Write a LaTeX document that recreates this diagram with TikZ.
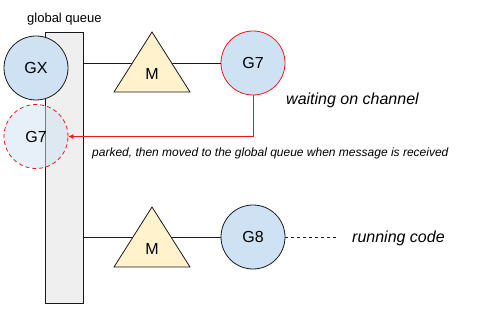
\documentclass[tikz,border=0pt]{standalone}
\usepackage{fontspec}
\setmainfont{Liberation Sans}
\usepackage{xcolor}
\usepackage{tikz}
\usetikzlibrary{arrows.meta,positioning}
\definecolor{gblue}{HTML}{CFE2F3}
\definecolor{myellow}{HTML}{FFF2CC}
\definecolor{qgrey}{HTML}{EFEFEF}
\definecolor{ink}{HTML}{1A1A1A}
\definecolor{pred}{HTML}{F01818}
\tikzset{
  queuebox/.style={draw=ink, fill=qgrey, line width=0.8pt, minimum width=38pt, minimum height=271pt, inner sep=0pt},
  gnode/.style={circle, draw=ink, fill=gblue, line width=0.8pt, minimum size=64pt, inner sep=0pt, font=\fontsize{16}{19}\selectfont},
  waitnode/.style={gnode, draw=pred},
  ghostnode/.style={circle, draw=pred, dash pattern=on 4pt off 3pt, fill=gblue, fill opacity=0.5, text opacity=1, line width=0.8pt, minimum size=64pt, inner sep=0pt, font=\fontsize{16}{19}\selectfont},
  mtri/.style={draw=ink, fill=myellow, line width=0.8pt, line join=miter},
  mlabel/.style={inner sep=0pt, font=\fontsize{16}{19}\selectfont},
  note/.style={inner sep=0pt, anchor=base west, font=\fontsize{16}{19}\selectfont\itshape},
  smallnote/.style={inner sep=0pt, anchor=base west, font=\fontsize{12}{14}\selectfont\itshape},
  line/.style={draw=ink, line width=0.8pt},
  dashline/.style={draw=ink, line width=0.8pt, dash pattern=on 3pt off 3pt},
  redline/.style={-{Latex[length=5pt,width=5pt]}, draw=pred, line width=0.8pt}
}
\begin{document}
\begin{tikzpicture}[x=1pt, y=-1pt]
    \useasboundingbox (0,0) rectangle (497,320);
    \node[queuebox] (queue) at (64,167.5) {};
    \node[inner sep=0pt, anchor=base west, font=\fontsize{13}{15}\selectfont] (qlabel) at (27,23) {global queue};

    % top row
    \node[waitnode] (g7) at (253,63) {G7};
    \draw[line] (queue.east |- g7.west) -- (g7.west);
    \draw[mtri] (152,32) -- (190,92) -- (114,92) -- cycle;
    \node[mlabel] (m1) at (152,74) {M};
    \node[gnode] (gx) at (36,68) {GX};
    \node[note] (wait) at (286,105) {waiting on channel};

    % parked goroutine
    \node[ghostnode] (g7park) at (36,136.5) {G7};
    \draw[redline] (g7.south) |- (g7park);
    \node[smallnote] (parked) at (92,157) {parked, then moved to the global queue when message is received};

    % bottom row
    \node[gnode] (g8) at (253,237) {G8};
    \draw[line] (queue.east |- g8.west) -- (g8.west);
    \draw[mtri] (152,207) -- (190,267) -- (114,267) -- cycle;
    \node[mlabel] (m2) at (152,249) {M};
    \node[note] (run) at (352,242) {running code};
    \draw[dashline, shorten >=13pt] (g8.east) -- (run.west |- g8.east);
  \end{tikzpicture}
\end{document}
